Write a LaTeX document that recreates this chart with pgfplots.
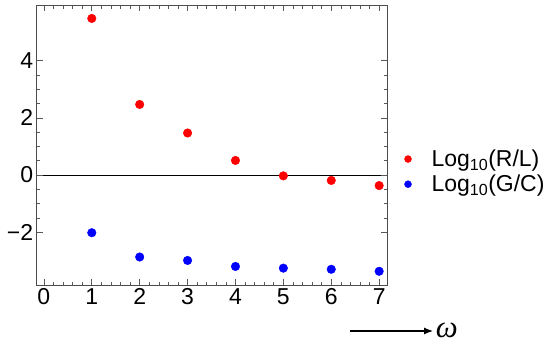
\documentclass[border=0pt]{standalone}
\usepackage{pgfplots}
\pgfplotsset{compat=1.18}
\usetikzlibrary{arrows.meta}
\usepackage{fontspec}
\setmainfont{Liberation Sans}
\newfontfamily\serifgr{Liberation Serif}
\begin{document}
\begin{tikzpicture}
\path[use as bounding box] (-36.7pt,-56pt) rectangle (513.3pt,285pt);
\begin{axis}[
  at={(0pt,0pt)}, anchor=south west,
  scale only axis, width=350.6pt, height=280pt,
  xmin=-0.15, xmax=7.17, ymin=-3.85, ymax=5.95,
  xtick={0,1,2,3,4,5,6,7},
  ytick={-2,0,2,4}, yticklabels={−2,0,2,4},
  minor x tick num=4, minor y tick num=3,
  tick align=inside, major tick length=6pt, minor tick length=3.5pt,
  tick style={gray!70!black, line width=0.6pt},
  axis line style={gray!60!black, line width=1pt},
  ticklabel style={font=\fontsize{23}{27}\selectfont},
  /pgf/number format/assume math mode=true,
  xtick pos=both, ytick pos=both,
  xticklabel pos=lower, yticklabel pos=left,
  extra y ticks={0}, extra y tick labels={},
  extra y tick style={grid=major, major grid style={black, line width=0.6pt}},
  legend style={at={(1.02,0.405)}, anchor=west, draw=none, fill=none,
    font=\fontsize{23}{27}\selectfont, row sep=3pt},
  legend cell align=left,
  legend image code/.code={\path[draw=none] (0pt,0pt) -- (32pt,0pt);
    \path[#1, draw=none, mark size=3.5pt] plot coordinates {(10.5pt,0pt)};},
  clip=false,
]
\addplot[only marks, mark=*, mark size=4.3pt, red, mark options={draw=red, fill=red}] coordinates {
(1,5.48) (2,2.47) (3,1.47) (4,0.51) (5,-0.03) (6,-0.19) (7,-0.37)};
\addlegendentry{Log\textsubscript{10}(R/L)}
\addplot[only marks, mark=*, mark size=4.3pt, blue, mark options={draw=blue, fill=blue}] coordinates {
(1,-2.02) (2,-2.87) (3,-2.99) (4,-3.20) (5,-3.26) (6,-3.30) (7,-3.37)};
\addlegendentry{Log\textsubscript{10}(G/C)}
\end{axis}
\draw[-{Latex[length=9pt,width=7pt]}, line width=1.2pt] (313.3pt,-46pt) -- (396.3pt,-46pt);
\node[anchor=west, inner sep=0pt] at (399pt,-45pt) {\fontsize{31}{36}\selectfont\serifgr\itshape ω};
\end{tikzpicture}
\end{document}
